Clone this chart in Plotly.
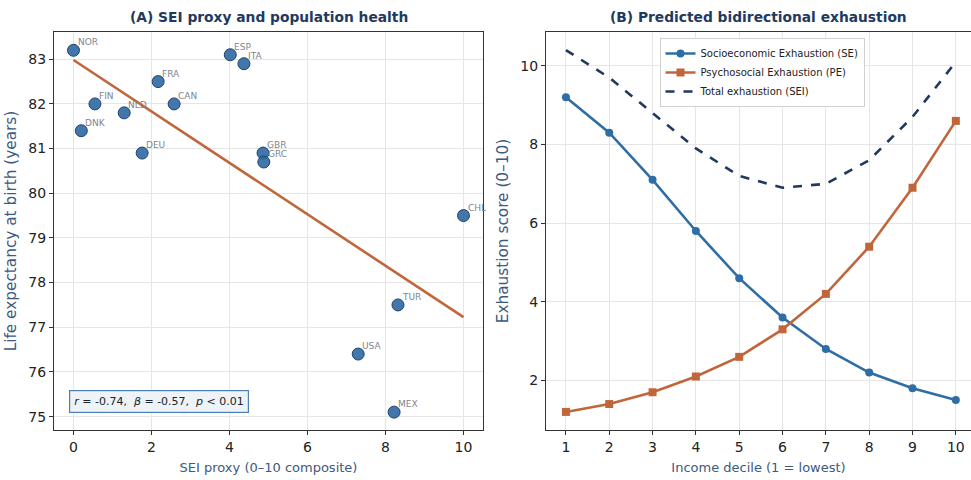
import numpy as np
import plotly.graph_objects as go

# ---- Panel A data ----
countries = ["NOR", "FIN", "DNK", "NLD", "DEU", "FRA", "CAN", "ESP", "ITA",
             "GBR", "GRC", "CHL", "TUR", "USA", "MEX"]
sei_proxy = [0.0, 0.55, 0.2, 1.3, 1.76, 2.17, 2.58, 4.02, 4.37,
             4.86, 4.88, 10.0, 8.32, 7.3, 8.22]
life_exp = [83.2, 82.0, 81.4, 81.8, 80.9, 82.5, 82.0, 83.1, 82.9,
            80.9, 80.7, 79.5, 77.5, 76.4, 75.1]

# ---- Panel B data ----
deciles = [1, 2, 3, 4, 5, 6, 7, 8, 9, 10]
se_vals = [9.2, 8.3, 7.1, 5.8, 4.6, 3.6, 2.8, 2.2, 1.8, 1.5]
pe_vals = [1.2, 1.4, 1.7, 2.1, 2.6, 3.3, 4.2, 5.4, 6.9, 8.6]
sei_vals = [10.4, 9.7, 8.8, 7.9, 7.2, 6.9, 7.0, 7.6, 8.7, 10.1]

FONT = "DejaVu Sans, sans-serif"
NAVY = "#1f3a5f"
BLUE = "#2f6ea5"
ORANGE = "#c1663a"
AXLAB = "#3d5a80"

fig = go.Figure()

# regression line
slope, intercept = np.polyfit(sei_proxy, life_exp, 1)
xfit = np.array([0.0, 10.0])
fig.add_trace(go.Scatter(x=xfit, y=intercept + slope * xfit, mode="lines",
                         line=dict(color=ORANGE, width=2.6), showlegend=False,
                         xaxis="x", yaxis="y", hoverinfo="skip"))
fig.add_trace(go.Scatter(x=sei_proxy, y=life_exp, mode="markers",
                         marker=dict(size=12, color="rgba(47,104,163,0.9)",
                                     line=dict(color="#1d446e", width=1)),
                         showlegend=False, xaxis="x", yaxis="y"))

# panel B
fig.add_trace(go.Scatter(x=deciles, y=se_vals, mode="lines+markers",
                         name="Socioeconomic Exhaustion (SE)",
                         line=dict(color=BLUE, width=2.6),
                         marker=dict(symbol="circle", size=8, color=BLUE),
                         xaxis="x2", yaxis="y2"))
fig.add_trace(go.Scatter(x=deciles, y=pe_vals, mode="lines+markers",
                         name="Psychosocial Exhaustion (PE)",
                         line=dict(color=ORANGE, width=2.6),
                         marker=dict(symbol="square", size=8, color=ORANGE),
                         xaxis="x2", yaxis="y2"))
fig.add_trace(go.Scatter(x=deciles, y=sei_vals, mode="lines",
                         name="Total exhaustion (SEI)",
                         line=dict(color=NAVY, width=2.6, dash="dash"),
                         xaxis="x2", yaxis="y2"))

annotations = []
for c, xv, yv in zip(countries, sei_proxy, life_exp):
    annotations.append(dict(x=xv, y=yv, xref="x", yref="y", text=c,
                            showarrow=False, xanchor="left", yanchor="bottom",
                            xshift=2, yshift=1,
                            font=dict(family=FONT, size=9, color="#808590")))

annotations.append(dict(x=0.0, y=75.34, xref="x", yref="y", xanchor="left", yanchor="middle",
                        xshift=-5,
                        text="<i>r</i> = -0.74,  <i>β</i> = -0.57,  <i>p</i> < 0.01",
                        showarrow=False, bgcolor="#eef3f8", bordercolor="#4a7fb5",
                        borderwidth=1.2, borderpad=4,
                        font=dict(family=FONT, size=11, color="#222222")))

annotations.append(dict(x=(54 + 483) / 2 / 971, y=1 - 17 / 480, xref="paper", yref="paper",
                        text="<b>(A) SEI proxy and population health</b>", showarrow=False,
                        xanchor="center", yanchor="middle",
                        font=dict(family=FONT, size=13.8, color=NAVY)))
annotations.append(dict(x=(546 + 971) / 2 / 971, y=1 - 17 / 480, xref="paper", yref="paper",
                        text="<b>(B) Predicted bidirectional exhaustion</b>", showarrow=False,
                        xanchor="center", yanchor="middle",
                        font=dict(family=FONT, size=13.8, color=NAVY)))

ydom = [1 - 430 / 480, 1 - 32 / 480]
axcommon = dict(showline=True, linecolor="#333333", linewidth=1.2, mirror=True,
                ticks="outside", ticklen=4, tickcolor="#333333", automargin=False,
                showgrid=True, gridcolor="#e6e6e6", gridwidth=1, zeroline=False,
                tickfont=dict(family=FONT, size=14, color="#222222"))

fig.update_layout(
    width=971, height=480,
    margin=dict(l=0, r=0, t=0, b=0),
    paper_bgcolor="white", plot_bgcolor="white",
    font=dict(family=FONT),
    xaxis=dict(domain=[54 / 971, 483 / 971], range=[-0.5, 10.5], tickvals=[0, 2, 4, 6, 8, 10],
               title=dict(text="SEI proxy (0–10 composite)", font=dict(size=13, color=AXLAB), standoff=8),
               anchor="y", **axcommon),
    yaxis=dict(domain=ydom, range=[74.7, 83.61], tickvals=[75, 76, 77, 78, 79, 80, 81, 82, 83],
               title=dict(text="Life expectancy at birth (years)", font=dict(size=15.3, color=AXLAB), standoff=7),
               anchor="x", **axcommon),
    xaxis2=dict(domain=[546 / 971, 1.0], range=[0.54, 10.35], tickvals=deciles,
                title=dict(text="Income decile (1 = lowest)", font=dict(size=13, color=AXLAB), standoff=8),
                anchor="y2", **axcommon),
    yaxis2=dict(domain=ydom, range=[0.74, 10.86], tickvals=[2, 4, 6, 8, 10],
                title=dict(text="Exhaustion score (0–10)", font=dict(size=15.3, color=AXLAB), standoff=7),
                anchor="x2", **axcommon),
    legend=dict(x=762 / 971, y=1 - 38 / 480, xanchor="center", yanchor="top",
                bgcolor="white", bordercolor="#d0d0d0", borderwidth=1,
                font=dict(family=FONT, size=10, color="#222222"), tracegroupgap=0, itemwidth=30),
    annotations=annotations,
    showlegend=True,
)

fig.write_html("out.html", config={"displayModeBar": False},
               post_script="document.body.style.margin='0';document.body.style.overflow='hidden';")
